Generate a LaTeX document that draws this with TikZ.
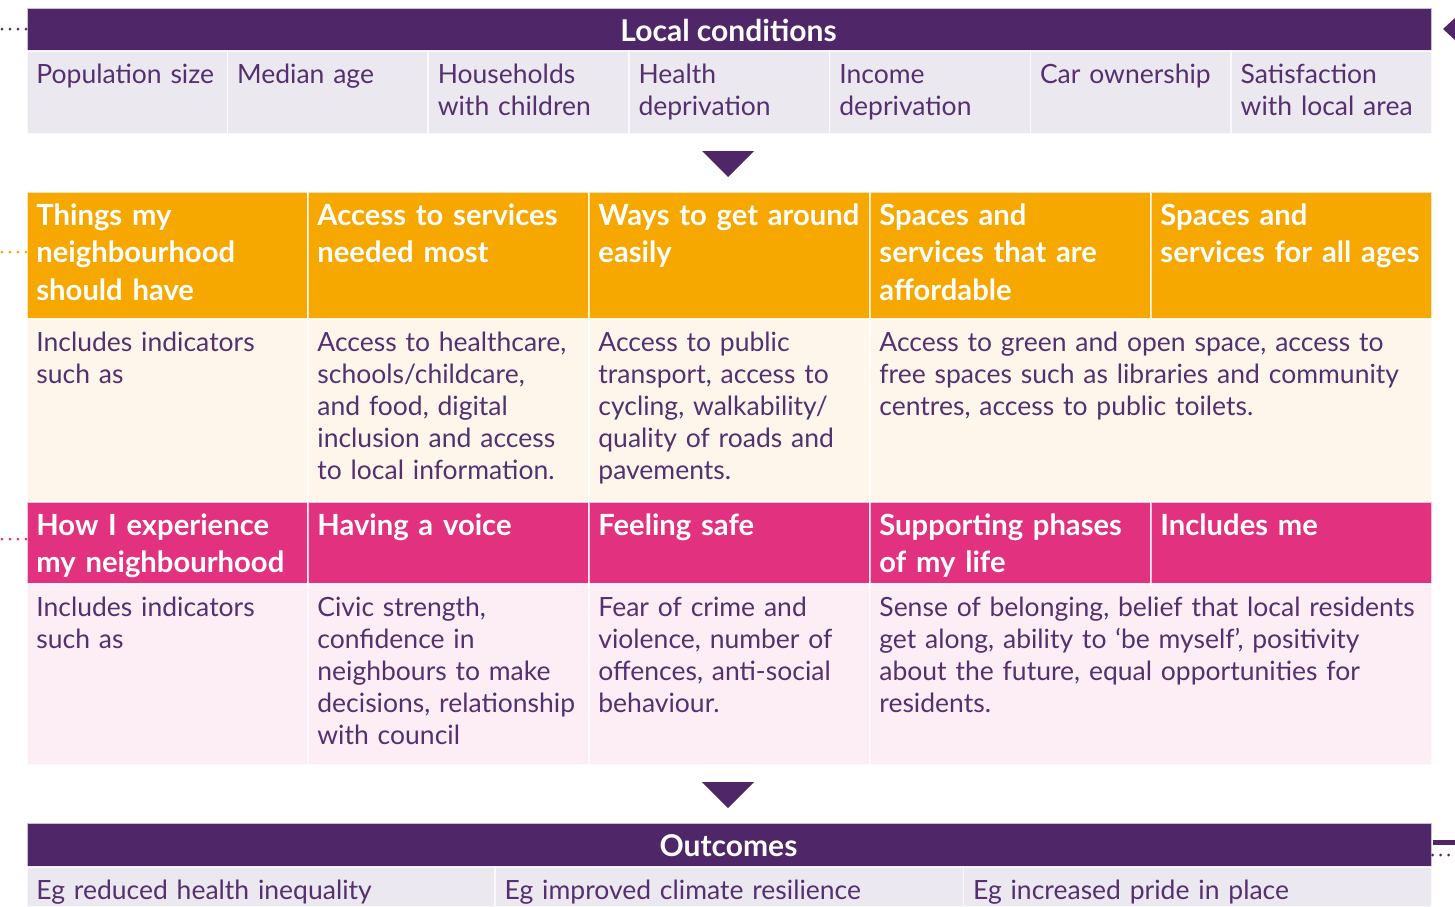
\documentclass[tikz,border=0pt]{standalone}
\usepackage{fontspec}
\setmainfont{Lato}
\definecolor{plum}{HTML}{4F2667}
\definecolor{ink}{HTML}{55306F}
\definecolor{lav}{HTML}{ECE8F0}
\definecolor{amber}{HTML}{F6A700}
\definecolor{cream}{HTML}{FEF6EA}
\definecolor{rose}{HTML}{E2317F}
\definecolor{blush}{HTML}{FDEDF5}
\tikzset{
    every node/.style={inner sep=0pt, anchor=north west}
}
\tikzset{
    cell/.style={rectangle, draw=white, draw opacity=0.7, line width=0.8pt},
    body/.style={font=\fontsize{13.25}{16}\selectfont, text=ink, align=left,
        text width=285pt, execute at begin node=\strut},
    head/.style={font=\fontsize{14.6}{18.75}\selectfont\bfseries, text=white,
        align=left, text width=285pt, execute at begin node=\strut},
    title/.style={font=\fontsize{15}{16}\selectfont\bfseries, text=white,
        anchor=base},
    dots/.style={line width=1.5pt, line cap=round, dash pattern=on 0pt off 4pt}
}

\begin{document}
\begin{tikzpicture}[x=0.5pt, y=-0.5pt]
	\useasboundingbox (0,0) rectangle (1455,906);
	% local conditions
	\node (lc) [cell, fill=plum, minimum width=702.5pt, minimum height=21.5pt] at (26,7) {};
	\node (lct) [title] at (728.5,41) {Local conditions};
	\node (p1) [cell, fill=lav, minimum width=100.36pt, minimum height=41.5pt] at (26,50) {};
	\node (p2) [cell, fill=lav, minimum width=100.36pt, minimum height=41.5pt] at (226.71,50) {};
	\node (p3) [cell, fill=lav, minimum width=100.36pt, minimum height=41.5pt] at (427.43,50) {};
	\node (p4) [cell, fill=lav, minimum width=100.36pt, minimum height=41.5pt] at (628.14,50) {};
	\node (p5) [cell, fill=lav, minimum width=100.36pt, minimum height=41.5pt] at (828.86,50) {};
	\node (p6) [cell, fill=lav, minimum width=100.36pt, minimum height=41.5pt] at (1029.57,50) {};
	\node (p7) [cell, fill=lav, minimum width=100.36pt, minimum height=41.5pt] at (1230.29,50) {};
	\node (pt1) [body] at (36,60.6) {Population size};
	\node (pt2) [body] at (236.7,60.6) {Median age};
	\node (pt3) [body] at (437.4,60.6) {Households\\with children};
	\node (pt4) [body] at (638.1,60.6) {Health\\deprivation};
	\node (pt5) [body] at (838.9,60.6) {Income\\deprivation};
	\node (pt6) [body] at (1039.6,60.6) {Car ownership};
	\node (pt7) [body] at (1240.3,60.6) {Satisfaction\\with local area};

	\fill[plum] (702,151) -- (754,151) -- (728,177) -- cycle;

	% things my neighbourhood should have
	\node (o1) [cell, fill=amber, minimum width=140.5pt, minimum height=63.5pt] at (26,191) {};
	\node (o2) [cell, fill=amber, minimum width=140.5pt, minimum height=63.5pt] at (307,191) {};
	\node (o3) [cell, fill=amber, minimum width=140.5pt, minimum height=63.5pt] at (588,191) {};
	\node (o4) [cell, fill=amber, minimum width=140.5pt, minimum height=63.5pt] at (869,191) {};
	\node (o5) [cell, fill=amber, minimum width=140.5pt, minimum height=63.5pt] at (1150,191) {};
	\node (ot1) [head] at (36,198.75) {Things my\\neighbourhood\\should have};
	\node (ot2) [head] at (317,198.75) {Access to services\\needed most};
	\node (ot3) [head] at (598,198.75) {Ways to get around\\easily};
	\node (ot4) [head] at (879,198.75) {Spaces and\\services that are\\affordable};
	\node (ot5) [head] at (1160,198.75) {Spaces and\\services for all ages};
	\node (c1) [cell, fill=cream, minimum width=140.5pt, minimum height=91.5pt] at (26,318) {};
	\node (c2) [cell, fill=cream, minimum width=140.5pt, minimum height=91.5pt] at (307,318) {};
	\node (c3) [cell, fill=cream, minimum width=140.5pt, minimum height=91.5pt] at (588,318) {};
	\node (c4) [cell, fill=cream, minimum width=281pt, minimum height=91.5pt] at (869,318) {};
	\node (ct1) [body] at (36,328.6) {Includes indicators\\such as};
	\node (ct2) [body] at (317,328.6) {Access to healthcare,\\schools/childcare,\\and food, digital\\inclusion and access\\to local information.};
	\node (ct3) [body] at (598,328.6) {Access to public\\transport, access to\\cycling, walkability/\\quality of roads and\\pavements.};
	\node (ct4) [body] at (879,328.6) {Access to green and open space, access to\\free spaces such as libraries and community\\centres, access to public toilets.};

	% how I experience my neighbourhood
	\node (k1) [cell, fill=rose, minimum width=140.5pt, minimum height=41pt] at (26,501) {};
	\node (k2) [cell, fill=rose, minimum width=140.5pt, minimum height=41pt] at (307,501) {};
	\node (k3) [cell, fill=rose, minimum width=140.5pt, minimum height=41pt] at (588,501) {};
	\node (k4) [cell, fill=rose, minimum width=140.5pt, minimum height=41pt] at (869,501) {};
	\node (k5) [cell, fill=rose, minimum width=140.5pt, minimum height=41pt] at (1150,501) {};
	\node (kt1) [head] at (36,508.75) {How I experience\\my neighbourhood};
	\node (kt2) [head] at (317,508.75) {Having a voice};
	\node (kt3) [head] at (598,508.75) {Feeling safe};
	\node (kt4) [head] at (879,508.75) {Supporting phases\\of my life};
	\node (kt5) [head] at (1160,508.75) {Includes me};
	\node (m1) [cell, fill=blush, minimum width=140.5pt, minimum height=90.5pt] at (26,583) {};
	\node (m2) [cell, fill=blush, minimum width=140.5pt, minimum height=90.5pt] at (307,583) {};
	\node (m3) [cell, fill=blush, minimum width=140.5pt, minimum height=90.5pt] at (588,583) {};
	\node (m4) [cell, fill=blush, minimum width=281pt, minimum height=90.5pt] at (869,583) {};
	\node (mt1) [body] at (36,593.6) {Includes indicators\\such as};
	\node (mt2) [body] at (317,593.6) {Civic strength,\\confidence in\\neighbours to make\\decisions, relationship\\with council};
	\node (mt3) [body] at (598,593.6) {Fear of crime and\\violence, number of\\offences, anti-social\\behaviour.};
	\node (mt4) [body] at (879,593.6) {Sense of belonging, belief that local residents\\get along, ability to ‘be myself’, positivity\\about the future, equal opportunities for\\residents.};

	\fill[plum] (702,782) -- (754,782) -- (728,808) -- cycle;

	% outcomes
	\node (oc) [cell, fill=plum, minimum width=702.5pt, minimum height=22pt] at (26,822) {};
	\node (oct) [title] at (728.5,856) {Outcomes};
	\node (e1) [cell, fill=lav, minimum width=234.17pt, minimum height=20pt] at (26,866) {};
	\node (e2) [cell, fill=lav, minimum width=234.17pt, minimum height=20pt] at (494.33,866) {};
	\node (e3) [cell, fill=lav, minimum width=234.17pt, minimum height=20pt] at (962.67,866) {};
	\node (et1) [body] at (36,876.6) {Eg reduced health inequality};
	\node (et2) [body] at (504.3,876.6) {Eg improved climate resilience};
	\node (et3) [body] at (972.7,876.6) {Eg increased pride in place};

	% links to the sides
	\coordinate (l1) at (2,29);
	\coordinate (l2) at (2,252);
	\coordinate (l3) at (2,539);
	\coordinate (r1) at (1455,842);
	\coordinate (r2) at (1453,855);
	\draw[dots, plum] (l1) -- (l1 -| lc.west);
	\draw[dots, amber] (l2) -- (l2 -| o1.west);
	\draw[dots, rose] (l3) -- (l3 -| k1.west);
	\draw[plum, line width=2.5pt] (oc.east |- r1) -- (r1);
	\draw[dots, plum] (oc.east |- r2) -- (r2);
	\fill[plum] (1443,29) -- (1456,17) -- (1456,41) -- cycle;
\end{tikzpicture}
\end{document}
